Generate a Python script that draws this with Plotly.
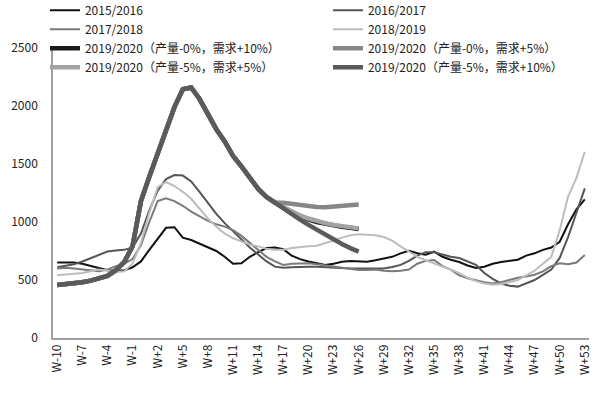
import plotly.graph_objects as go

weeks = [f"W-{n}" for n in range(10, 0, -1)] + [f"W+{n}" for n in range(0, 54)]
tick_labels = ["W-10", "W-7", "W-4", "W-1", "W+2", "W+5", "W+8", "W+11", "W+14", "W+17",
               "W+20", "W+23", "W+26", "W+29", "W+32", "W+35", "W+38", "W+41", "W+44",
               "W+47", "W+50", "W+53"]
y_ticks = [0, 500, 1000, 1500, 2000, 2500]

s2015 = [650, 652, 650, 640, 620, 600, 585, 580, 585, 610, 660, 760, 860, 950, 955, 865,
         845, 815, 780, 750, 700, 640, 645, 700, 740, 775, 780, 765, 710, 680, 660, 645,
         630, 640, 658, 664, 660, 658, 670, 685, 700, 730, 752, 730, 718, 744, 700, 675,
         655, 625, 603, 615, 640, 655, 665, 675, 710, 730, 760, 780, 830, 980, 1110, 1195]
s2016 = [610, 620, 635, 660, 690, 720, 745, 755, 760, 780, 900, 1100, 1270, 1370, 1405, 1400,
         1350, 1260, 1160, 1070, 990, 920, 850, 780, 720, 660, 615, 605, 610, 615, 615, 615,
         610, 610, 605, 600, 600, 600, 598, 600, 612, 630, 665, 710, 740, 740, 720, 700,
         690, 660, 630, 560, 510, 470, 450, 443, 470, 500, 545, 590, 690, 870, 1080, 1290]
s2017 = [600, 605, 600, 590, 580, 575, 590, 620, 640, 680, 800, 1000, 1180, 1205, 1180, 1140,
         1090, 1050, 1010, 980, 960, 930, 880, 820, 760, 700, 660, 630, 640, 645, 645, 635,
         625, 615, 600, 590, 586, 586, 590, 580, 575, 580, 590, 640, 665, 672, 620, 590,
         540, 515, 495, 480, 470, 480, 500, 520, 530, 545, 575, 620, 645, 635, 650, 716]
s2018 = [540, 545, 550, 560, 575, 590, 580, 570, 575, 640, 820, 1080, 1300, 1345, 1310, 1260,
         1200, 1110, 1030, 960, 900, 860, 830, 805, 790, 770, 760, 760, 775, 785, 790, 795,
         815, 840, 865, 885, 895, 890, 885, 870, 840, 790, 745, 700, 670, 640, 615, 590,
         560, 520, 490, 470, 460, 465, 480, 500, 540, 580, 640, 700, 930, 1220, 1380, 1606]

common = [457, 462, 468, 480, 495, 512, 535, 585, 655, 790, 1180, 1390, 1600, 1800, 1990, 2145,
          2160, 2060, 1930, 1800, 1695, 1570, 1480, 1380, 1285, 1215, 1165]
sc_p0_d10 = common + [1125, 1085, 1050, 1022, 1000, 985, 970, 958, 950, 940]
sc_p0_d5 = common + [1165, 1155, 1145, 1135, 1130, 1128, 1132, 1138, 1145, 1150]
sc_p5_d5 = common + [1130, 1090, 1055, 1030, 1008, 990, 975, 962, 952, 945]
sc_p5_d10 = common + [1110, 1065, 1020, 975, 931, 890, 850, 810, 775, 745]

series = [
    ("2015/2016", s2015, "#111111", 2, 1),
    ("2016/2017", s2016, "#555555", 2, 2),
    ("2017/2018", s2017, "#7a7a7a", 2, 3),
    ("2018/2019", s2018, "#bdbdbd", 2, 4),
    ("2019/2020（产量-0%，需求+10%）", sc_p0_d10, "#1a1a1a", 4.5, 5),
    ("2019/2020（产量-5%，需求+5%）", sc_p5_d5, "#a3a3a3", 4.5, 7),
    ("2019/2020（产量-0%，需求+5%）", sc_p0_d5, "#878787", 4.5, 6),
    ("2019/2020（产量-5%，需求+10%）", sc_p5_d10, "#5a5a5a", 4.5, 8),
]

idx = list(range(len(weeks)))
tick_idx = [weeks.index(t) for t in tick_labels]

fig = go.Figure()
for name, vals, color, width, rank in series:
    fig.add_trace(go.Scatter(
        x=idx[:len(vals)], y=vals, mode="lines", name=name,
        line=dict(color=color, width=width), legendrank=rank,
    ))

font_family = "Noto Sans CJK SC, Noto Sans, sans-serif"
fig.update_layout(
    width=600, height=398,
    margin=dict(l=53, r=11, t=48, b=60, autoexpand=False),
    paper_bgcolor="white", plot_bgcolor="white",
    font=dict(family=font_family, size=12, color="#222222"),
    showlegend=True,
    legend=dict(
        orientation="h", x=-0.015, xanchor="left", y=1.18, yanchor="top",
        entrywidth=238, entrywidthmode="pixels", itemwidth=30,
        font=dict(family=font_family, size=12, color="#222222"),
        bgcolor="rgba(0,0,0,0)", tracegroupgap=0,
    ),
    xaxis=dict(
        range=[-0.5, 63.5], tickmode="array", tickvals=tick_idx, ticktext=tick_labels,
        tickangle=-90, showgrid=False, zeroline=False, showline=True, automargin=False,
        linecolor="#a0a0a0", linewidth=1.5, ticks="",
        tickfont=dict(family=font_family, size=12, color="#222222"),
    ),
    yaxis=dict(
        range=[0, 2500], tickmode="array", tickvals=y_ticks, automargin=False,
        showgrid=False, zeroline=False, showline=True, linecolor="#a0a0a0",
        linewidth=1.5, ticks="", ticklabelstandoff=11,
        tickfont=dict(family=font_family, size=12, color="#222222"),
    ),
)

fig.write_html("out.html", config={"displayModeBar": False},
               post_script="document.body.style.margin='0';")
